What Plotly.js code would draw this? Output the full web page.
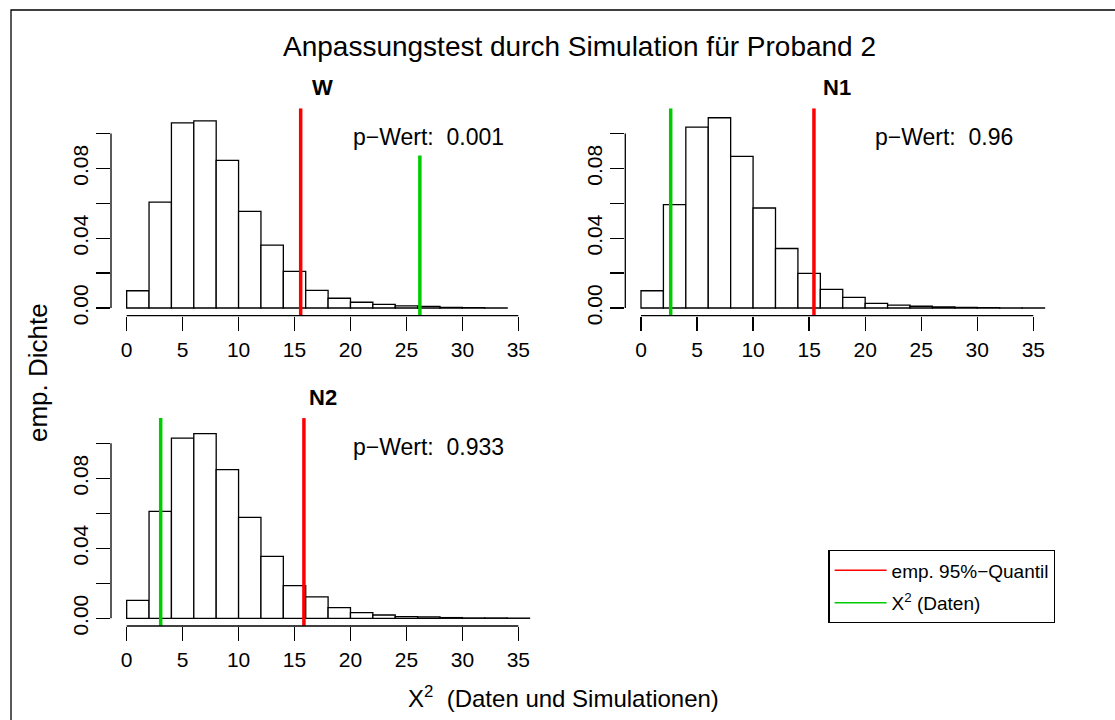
<!DOCTYPE html>
<html>
<head>
<meta charset="utf-8">
<script src="https://cdn.plot.ly/plotly-3.0.1.min.js"></script>
<style>html,body{margin:0;padding:0;background:#fff}</style>
</head>
<body>
<div id="plt" style="width:1115px;height:720px"></div>
<script>
var binEdges = [0, 2, 4, 6, 8, 10, 12, 14, 16, 18, 20, 22, 24, 26, 28, 30, 32, 34, 36];
var densW  = [0.0099, 0.0606, 0.1061, 0.1072, 0.0846, 0.0554, 0.0360, 0.0210, 0.0101,
              0.0056, 0.0033, 0.0021, 0.0012, 0.0009, 0.0003, 0.0002, 0.0001];
var densN1 = [0.0099, 0.0592, 0.1036, 0.1090, 0.0869, 0.0573, 0.0341, 0.0198, 0.0107,
              0.0061, 0.0027, 0.0017, 0.0010, 0.0007, 0.0003, 0.0002, 0.0001, 0.0001];
var densN2 = [0.0103, 0.0611, 0.1030, 0.1055, 0.0850, 0.0577, 0.0354, 0.0187, 0.0122,
              0.0061, 0.0032, 0.0019, 0.0010, 0.0008, 0.0004, 0.0002, 0.0002, 0.0001];

var panelNames = ['W', 'N1', 'N2'];
var quant95 = [15.55, 15.43, 15.84];    // emp. 95%-Quantil (red)
var chiData = [26.2, 2.65, 3.04];       // X^2 der Daten (green)
var chiTop = [0.0874, 0.1144, 0.1144];  // upper end of the green line
var pWert = ['0.001', '0.96', '0.933'];

var xTicks = [0, 5, 10, 15, 20, 25, 30, 35];
var yTicks = [0, 0.04, 0.08];
var yTickText = ['0.00', '0.04', '0.08'];
var yMinor = [0.02, 0.06, 0.10];

var W = 1115, H = 720;
var FONT = 'Liberation Sans, Arial, Helvetica, sans-serif';
var xRange = [-1.4, 36.4], yRange = [-0.0044, 0.1144];

function fx(p) { return p / W; }
function fy(p) { return 1 - p / H; }

var mids = [];
for (var i = 0; i < binEdges.length - 1; i++) mids.push((binEdges[i] + binEdges[i + 1]) / 2);

var dens = [densW, densN1, densN2];
var axSuffix = ['', '2', '3'];
var domains = [
    {x: [fx(111), fx(534)], y: [fy(315.7), fy(108.3)]},
    {x: [fx(625.3), fx(1049)], y: [fy(315.7), fy(108.3)]},
    {x: [fx(111), fx(534)], y: [fy(626), fy(418.1)]}
];

var data = [];
var shapes = [];
var annotations = [];
var layout = {
    width: W, height: H,
    margin: {l: 0, r: 0, t: 0, b: 0},
    paper_bgcolor: 'white', plot_bgcolor: 'white',
    font: {family: FONT, color: 'black'},
    showlegend: true,
    legend: {
        x: fx(828.3), y: fy(550), xanchor: 'left', yanchor: 'top',
        bordercolor: 'black', borderwidth: 1.3, bgcolor: 'white',
        itemwidth: 52, tracegroupgap: 5, entrywidth: 186,
        font: {size: 19, family: FONT}
    }
};

for (var k = 0; k < 3; k++) {
    var xa = 'x' + axSuffix[k], ya = 'y' + axSuffix[k];
    data.push({
        x: mids.slice(0, dens[k].length), y: dens[k], type: 'bar', width: 2,
        marker: {color: 'white', line: {color: 'black', width: 1.3}},
        xaxis: xa, yaxis: ya, showlegend: false, hoverinfo: 'skip'
    });
    data.push({
        x: [quant95[k], quant95[k]], y: yRange, type: 'scatter', mode: 'lines',
        line: {color: '#ff0000', width: 3.5}, xaxis: xa, yaxis: ya, showlegend: false
    });
    data.push({
        x: [chiData[k], chiData[k]], y: [yRange[0], chiTop[k]], type: 'scatter', mode: 'lines',
        line: {color: '#00cd00', width: 3.5}, xaxis: xa, yaxis: ya, showlegend: false
    });

    layout['xaxis' + axSuffix[k]] = {
        domain: domains[k].x, range: xRange, anchor: ya,
        showgrid: false, zeroline: false, showline: false,
        tickmode: 'array', tickvals: xTicks, ticks: 'outside', ticklen: 14,
        tickwidth: 1.3, tickcolor: 'black', ticklabelstandoff: 1,
        tickfont: {size: 21, family: FONT, color: 'black'}
    };
    layout['yaxis' + axSuffix[k]] = {
        domain: domains[k].y, range: yRange, anchor: xa,
        showgrid: false, zeroline: false, showline: false,
        tickmode: 'array', tickvals: yTicks, ticktext: yTickText, tickangle: -90,
        ticks: 'outside', ticklen: 14, tickwidth: 1.3, tickcolor: 'black', ticklabelstandoff: 0,
        minor: {tickmode: 'array', tickvals: yMinor, ticks: 'outside', ticklen: 14,
                tickwidth: 1.3, tickcolor: 'black'},
        tickfont: {size: 21, family: FONT, color: 'black'}
    };
    // R-style axis lines that only span the tick range
    shapes.push({type: 'line', xref: xa, yref: ya + ' domain', x0: 0, x1: 35, y0: 0, y1: 0,
        line: {color: 'black', width: 1.3}});
    shapes.push({type: 'line', xref: xa + ' domain', yref: ya, x0: 0, x1: 0, y0: 0, y1: 0.10,
        line: {color: 'black', width: 1.3}});

    annotations.push({
        text: '<b>' + panelNames[k] + '</b>', xref: 'paper', yref: 'paper',
        x: (domains[k].x[0] + domains[k].x[1]) / 2, y: domains[k].y[1] + 21 / H,
        xanchor: 'center', yanchor: 'middle', showarrow: false,
        font: {size: 22, family: FONT, color: 'black'}
    });
    annotations.push({
        text: 'p\u2212Wert:  ' + pWert[k], xref: xa, yref: ya, x: 27, y: 0.098,
        xanchor: 'center', yanchor: 'middle', showarrow: false,
        font: {size: 23, family: FONT, color: 'black'}
    });
}

// legend entries
data.push({x: [null], y: [null], type: 'scatter', mode: 'lines', name: 'emp. 95%\u2212Quantil',
    legendgroup: 'q', line: {color: '#ff0000', width: 1.5}, xaxis: 'x3', yaxis: 'y3'});
data.push({x: [null], y: [null], type: 'scatter', mode: 'lines', name: 'X<sup>2</sup> (Daten)',
    legendgroup: 'd', line: {color: '#00cd00', width: 1.5}, xaxis: 'x3', yaxis: 'y3'});

annotations.push({
    text: 'Anpassungstest durch Simulation für Proband 2', xref: 'paper', yref: 'paper',
    x: fx(580), y: fy(46), xanchor: 'center', yanchor: 'middle', showarrow: false,
    font: {size: 28, family: FONT, color: 'black'}
});
annotations.push({
    text: 'X<sup>2</sup>  (Daten und Simulationen)', xref: 'paper', yref: 'paper',
    x: fx(563.5), y: fy(697), xanchor: 'center', yanchor: 'middle', showarrow: false,
    font: {size: 24, family: FONT, color: 'black'}
});
annotations.push({
    text: 'emp. Dichte', xref: 'paper', yref: 'paper', textangle: -90,
    x: fx(38), y: fy(373), xanchor: 'center', yanchor: 'middle', showarrow: false,
    font: {size: 26, family: FONT, color: 'black'}
});

// outer frame
shapes.push({type: 'rect', xref: 'paper', yref: 'paper', x0: fx(11), x1: 1.02, y0: -0.02, y1: fy(10),
    line: {color: 'black', width: 1.3}});

layout.shapes = shapes;
layout.annotations = annotations;

Plotly.newPlot('plt', data, layout, {staticPlot: true});
</script>
</body>
</html>
